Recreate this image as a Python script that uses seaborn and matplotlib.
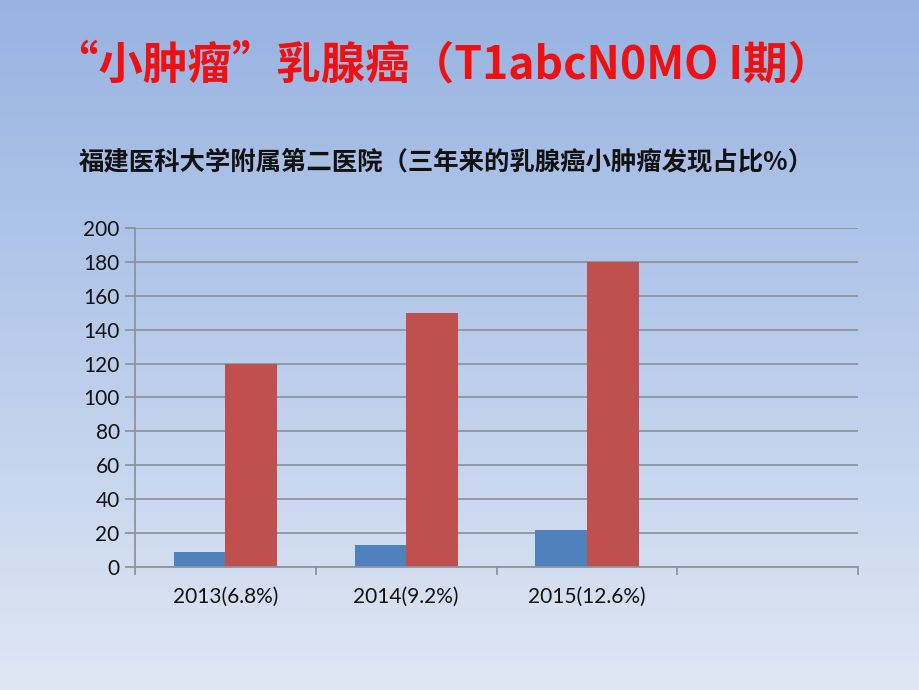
import numpy as np
import pandas as pd
import matplotlib
matplotlib.use("Agg")
import matplotlib.pyplot as plt
import seaborn as sns
from matplotlib.colors import LinearSegmentedColormap

categories = ["2013(6.8%)", "2014(9.2%)", "2015(12.6%)"]
small_tumor = [9, 13, 22]
breast_cancer = [120, 150, 180]
series_names = ["小肿瘤", "乳腺癌"]
yticks = list(range(0, 201, 20))

df = pd.DataFrame({
    "year": categories * 2,
    "value": small_tumor + breast_cancer,
    "series": [series_names[0]] * 3 + [series_names[1]] * 3,
})

sns.set_theme(style="white")
plt.rcParams["font.family"] = ["Noto Sans CJK SC", "DejaVu Sans"]

fig = plt.figure(figsize=(9.2, 6.9), dpi=100)

# slide background gradient
bg = fig.add_axes([0, 0, 1, 1], zorder=-10)
cmap = LinearSegmentedColormap.from_list("bg", ["#98b3e2", "#b9cceb", "#e0e7f4"])
bg.imshow(np.linspace(0, 1, 256).reshape(-1, 1), aspect="auto", cmap=cmap,
          extent=[0, 1, 0, 1])
bg.axis("off")

ax = fig.add_axes([0.1467, 0.1783, 0.786, 0.4913])
ax.patch.set_alpha(0)
sns.barplot(data=df, x="year", y="value", hue="series", order=categories + [" "],
            palette=["#4f81bd", "#c0504d"], width=0.571, saturation=1,
            edgecolor="none", linewidth=0, legend=False, ax=ax)

ax.set_xlim(-0.5, 3.5)
ax.set_ylim(0, 200)
ax.set_yticks(yticks)
ax.yaxis.grid(True, color="#8c959f", linewidth=1.3)
ax.set_axisbelow(True)
for s in ["top", "right"]:
    ax.spines[s].set_visible(False)
for s in ["left", "bottom"]:
    ax.spines[s].set_color("#8c959f")
    ax.spines[s].set_linewidth(1.3)
ax.set_xlabel("")
ax.set_ylabel("")

# group boundary ticks below the axis
ax.set_xticks([-0.5, 0.5, 1.5, 2.5, 3.5])
ax.set_xticklabels([])
ax.set_xticks([0, 1, 2], minor=True)
ax.set_xticklabels(categories, minor=True, fontsize=15, family=["Lato", "DejaVu Sans"])
ax.tick_params(axis="x", which="major", bottom=True, direction="out", length=6,
               color="#8c959f", width=1.3)
ax.tick_params(axis="x", which="minor", bottom=True, length=0, pad=14)
ax.tick_params(axis="y", left=True, direction="out", length=7, color="#8c959f",
               width=1.3, pad=4)
for lbl in ax.get_yticklabels():
    lbl.set_fontsize(15)
    lbl.set_family(["Lato", "DejaVu Sans"])
    lbl.set_color("#111111")
for lbl in ax.get_xticklabels(minor=True):
    lbl.set_color("#111111")

fig.text(0.059, 0.905, "“小肿瘤”乳腺癌（T1abcN0MO I期）", color="#ee1111",
         fontsize=32, fontweight="bold", va="center", ha="left")
fig.text(0.086, 0.765, "福建医科大学附属第二医院（三年来的乳腺癌小肿瘤发现占比%）",
         color="#111111", fontsize=18.3, fontweight="bold", va="center", ha="left")

fig.savefig("out.png", dpi=100)
